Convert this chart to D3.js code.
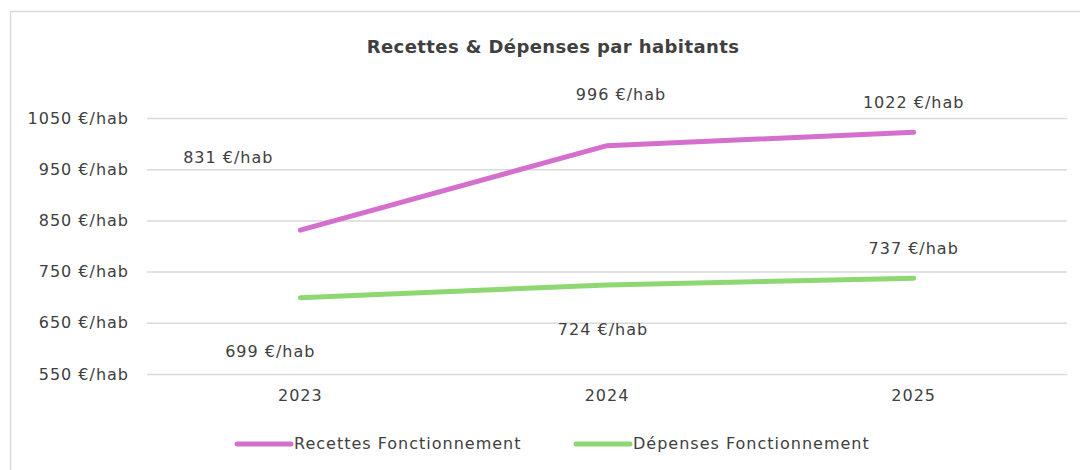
<!DOCTYPE html>
<html>
<head>
<meta charset="utf-8">
<script src="https://cdn.jsdelivr.net/npm/d3@7"></script>
<style>
  body { margin: 0; background: #fff; }
  #chart text { font-family: "DejaVu Sans", sans-serif; fill: #404040; letter-spacing: 1px; }
</style>
</head>
<body>
<div id="chart"></div>
<script>
// values
var years = ["2023", "2024", "2025"];
var recettes = [831, 996, 1022];
var depenses = [699, 724, 737];
var yTicks = [550, 650, 750, 850, 950, 1050];
var seriesNames = ["Recettes Fonctionnement", "Dépenses Fonctionnement"];
var seriesColors = ["#d56fcd", "#8dd873"];

// where excel dropped the data labels, relative to the point
var labelShift = [
  [[-72, -72], [14, -50], [0, -29]],
  [[-30, 55], [-4, 46], [0, -29]]
];

function display(){
  var width = 1080, height = 470;
  var margin = {left: 147, right: 13, top: 118, bottom: 96};

  var svg = d3.select("#chart").append("svg")
    .attr("width", width)
    .attr("height", height);

  // chart frame
  svg.append("rect")
    .attr("x", 10.5).attr("y", 11.5)
    .attr("width", width + 20).attr("height", height + 20)
    .attr("fill", "none")
    .attr("stroke", "#d9d9d9")
    .attr("stroke-width", 1.5);

  var x = d3.scaleBand()
    .domain(years)
    .range([margin.left, width - margin.right]);

  var y = d3.scaleLinear()
    .domain([550, 1050])
    .range([height - margin.bottom, margin.top]);

  // title
  svg.append("text")
    .attr("x", 553).attr("y", 53)
    .attr("text-anchor", "middle")
    .style("font-size", "18px")
    .style("font-weight", "bold")
    .style("letter-spacing", "0.4px")
    .text("Recettes & Dépenses par habitants");

  // grid + y labels
  var yAxis = svg.append("g")
    .attr("transform", "translate(" + margin.left + ",0)")
    .call(d3.axisLeft(y)
      .tickValues(yTicks)
      .tickSize(-(width - margin.left - margin.right))
      .tickPadding(18)
      .tickFormat(function(d){ return d + " €/hab"; }));
  yAxis.select(".domain").remove();
  yAxis.selectAll(".tick line").attr("stroke", "#d9d9d9").attr("stroke-width", 1.5);
  yAxis.selectAll(".tick text").style("font-size", "16px").attr("fill", null);

  // x labels
  var xAxis = svg.append("g")
    .attr("transform", "translate(0," + (height - margin.bottom) + ")")
    .call(d3.axisBottom(x).tickSize(0).tickPadding(16));
  xAxis.select(".domain").remove();
  xAxis.selectAll(".tick text").style("font-size", "16px").attr("fill", null);

  var line = d3.line()
    .x(function(d, i){ return x(years[i]) + x.bandwidth() / 2; })
    .y(function(d){ return y(d); });

  [recettes, depenses].forEach(function(values, s){
    svg.append("path")
      .datum(values)
      .attr("d", line)
      .attr("fill", "none")
      .attr("stroke", seriesColors[s])
      .attr("stroke-width", 5)
      .attr("stroke-linecap", "round")
      .attr("stroke-linejoin", "round");

    svg.selectAll(".lab" + s)
      .data(values)
      .enter()
      .append("text")
      .attr("class", "lab" + s)
      .attr("text-anchor", "middle")
      .attr("dominant-baseline", "middle")
      .attr("x", function(d, i){ return x(years[i]) + x.bandwidth() / 2 + labelShift[s][i][0]; })
      .attr("y", function(d, i){ return y(d) + labelShift[s][i][1]; })
      .style("font-size", "16px")
      .text(function(d){ return d + " €/hab"; });
  });

  // legend
  var legendX = [237, 576];
  seriesNames.forEach(function(name, s){
    var g = svg.append("g").attr("transform", "translate(" + legendX[s] + ",444)");
    g.append("line")
      .attr("x1", 0).attr("x2", 54)
      .attr("stroke", seriesColors[s])
      .attr("stroke-width", 5)
      .attr("stroke-linecap", "round");
    g.append("text")
      .attr("x", 57)
      .attr("dominant-baseline", "middle")
      .style("font-size", "16px")
      .text(name);
  });
}

display();
</script>
</body>
</html>
